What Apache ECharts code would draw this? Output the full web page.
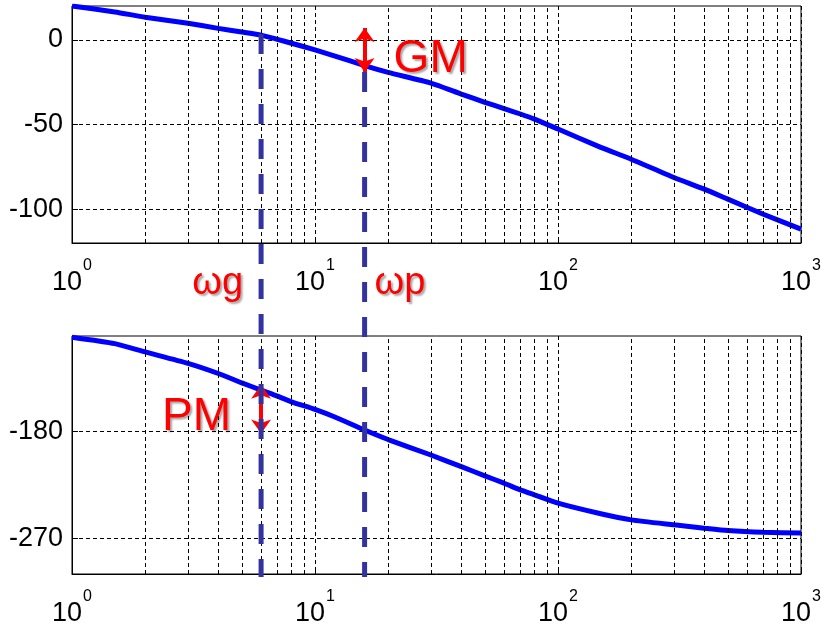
<!DOCTYPE html>
<html>
<head>
<meta charset="utf-8">
<script src="https://cdn.jsdelivr.net/npm/echarts@6/dist/echarts.min.js"></script>
<style>
    html, body { margin: 0; padding: 0; background: #fff; }
    #chart { width: 822px; height: 625px; }
</style>
</head>
<body>
<div id="chart"></div>
<script>
    // frequency points (rad/s) the curves were read at
    var freqs = [1, 1.5, 2, 3, 4, 5, 6, 7, 8, 10, 12, 16, 20, 30, 40, 50, 60, 70, 80, 100, 150, 200, 300, 400, 500, 700, 1000];
    // gain in dB
    var magnitude = [20, 16.5, 13.4, 9.8, 6.8, 4.6, 2.8, 0.3, -2, -5.9, -9.4, -15.2, -19.2, -25.5, -32, -36.9, -40.6, -43.8, -46.8, -52.7, -63.5, -70.5, -81.3, -88.2, -94.1, -103, -111.8];
    // phase in degrees
    var phase = [-101, -106.4, -113.4, -123, -131.5, -139.4, -145.5, -150.5, -155.3, -161.7, -167.9, -179, -187, -200, -209.8, -217.5, -223.7, -229.3, -233.5, -240.5, -249.4, -254.5, -258.7, -261.5, -263.5, -265, -265.6];

    var minorX = [2, 3, 4, 5, 6, 7, 8, 9, 20, 30, 40, 50, 60, 70, 80, 90, 200, 300, 400, 500, 600, 700, 800, 900];
    var magTicks = [0, -50, -100];
    var phaseTicks = [-180, -270];

    // crossover frequencies and margin arrows
    var wg = 6, wp = 16;
    var gmArrow = [7, -19];
    var pmArrow = [-141, -182];
    var lineTops = [3.5, -19];   // where the dashed lines start in the gain plot

    var font = '"Liberation Sans", Arial, sans-serif';
    var chart = echarts.init(document.getElementById('chart'));

    function logLabel(v) {
        return '{b|10}{s|' + Math.round(Math.log10(v)) + '}';
    }

    function xAxis(gi) {
        return {
            type: 'log', logBase: 10, gridIndex: gi, min: 1, max: 1000,
            axisLine: { onZero: false, lineStyle: { color: '#000', width: 1 } },
            axisTick: { inside: true, length: 6, lineStyle: { color: '#000' } },
            splitLine: { show: true, lineStyle: { color: '#000', type: [4, 3], width: 1 } },
            axisLabel: {
                formatter: logLabel, margin: 15, color: '#000',
                rich: {
                    b: { fontSize: 27, fontFamily: font, color: '#000' },
                    s: { fontSize: 16, fontFamily: font, color: '#000', padding: [0, 0, 34, 1] }
                }
            }
        };
    }

    function yAxis(gi, min, max, ticks) {
        return {
            type: 'value', gridIndex: gi, min: min, max: max,
            axisLine: { show: true, onZero: false, lineStyle: { color: '#000', width: 1 } },
            axisTick: { show: true, inside: true, length: 6, customValues: ticks, lineStyle: { color: '#000' } },
            splitLine: { show: true, lineStyle: { color: '#000', type: [4, 3], width: 1 } },
            axisLabel: { customValues: ticks, margin: 9, fontSize: 27, fontFamily: font, color: '#000' }
        };
    }

    function minorGrid(gi) {
        return {
            type: 'line', xAxisIndex: gi, yAxisIndex: gi, data: [], z: 1, silent: true,
            markLine: {
                silent: true, symbol: 'none', animation: false,
                label: { show: false },
                lineStyle: { color: '#000', type: [4, 3], width: 1 },
                data: minorX.map(function (v) { return { xAxis: v }; })
            }
        };
    }

    function arrowLine(x, range) {
        return {
            silent: true, symbol: ['arrow', 'arrow'], symbolSize: [15, 14], animation: false,
            label: { show: false },
            lineStyle: { color: '#ff0000', width: 4, type: 'solid' },
            data: [[{ coord: [x, range[0]] }, { coord: [x, range[1]] }]]
        };
    }

    chart.setOption({
        animation: false,
        grid: [
            { left: 72, top: 6, width: 729, height: 237, outerBoundsMode: 'none', show: true, borderColor: '#000', borderWidth: 1 },
            { left: 72, top: 336, width: 729, height: 238, outerBoundsMode: 'none', show: true, borderColor: '#000', borderWidth: 1 }
        ],
        xAxis: [xAxis(0), xAxis(1)],
        yAxis: [yAxis(0, -120, 20, magTicks), yAxis(1, -300, -100, phaseTicks)],
        series: [
            minorGrid(0),
            minorGrid(1),
            {
                type: 'line', xAxisIndex: 0, yAxisIndex: 0, z: 3, smooth: 0.2,
                showSymbol: false, lineStyle: { color: '#0000ff', width: 5 },
                data: freqs.map(function (f, i) { return [f, magnitude[i]]; }),
                markLine: arrowLine(wp, gmArrow)
            },
            {
                type: 'line', xAxisIndex: 1, yAxisIndex: 1, z: 3, smooth: 0.2,
                showSymbol: false, lineStyle: { color: '#0000ff', width: 5 },
                data: freqs.map(function (f, i) { return [f, phase[i]]; }),
                markLine: arrowLine(wg, pmArrow)
            }
        ]
    });

    // dashed crossover lines and labels, placed through the axes' own scales
    var bottomY = chart.convertToPixel({ gridIndex: 1 }, [1, -300])[1] + 3;
    var topAxisY = chart.convertToPixel({ gridIndex: 0 }, [1, -120])[1];
    var gPt = chart.convertToPixel({ gridIndex: 0 }, [wg, lineTops[0]]);
    var pPt = chart.convertToPixel({ gridIndex: 0 }, [wp, lineTops[1]]);
    var gmPt = chart.convertToPixel({ gridIndex: 0 }, [wp, -5]);
    var pmPt = chart.convertToPixel({ gridIndex: 1 }, [wg, -155]);

    var dash = { stroke: '#3333a0', lineWidth: 5, lineDash: [20, 15] };
    var red = {
        fill: '#ff0000', textShadowColor: 'rgba(0,0,0,0.35)', textShadowBlur: 2,
        textShadowOffsetX: 2, textShadowOffsetY: 2
    };

    function label(text, x, y, size, align) {
        return {
            type: 'text', z: 20, silent: true,
            style: Object.assign({
                text: text, x: x, y: y, align: align, verticalAlign: 'middle',
                font: size + 'px ' + font
            }, red)
        };
    }

    chart.setOption({
        graphic: [
            { type: 'line', z: 10, silent: true, shape: { x1: gPt[0], y1: gPt[1], x2: gPt[0], y2: bottomY }, style: dash },
            { type: 'line', z: 10, silent: true, shape: { x1: pPt[0], y1: pPt[1], x2: pPt[0], y2: bottomY }, style: dash },
            label('ωg', gPt[0] - 18, topAxisY + 41, 38, 'right'),
            label('ωp', pPt[0] + 10, topAxisY + 41, 38, 'left'),
            label('GM', gmPt[0] + 29, gmPt[1] + 11, 46, 'left'),
            label('PM', pmPt[0] - 30, pmPt[1] + 16, 46, 'right')
        ]
    });
</script>
</body>
</html>
